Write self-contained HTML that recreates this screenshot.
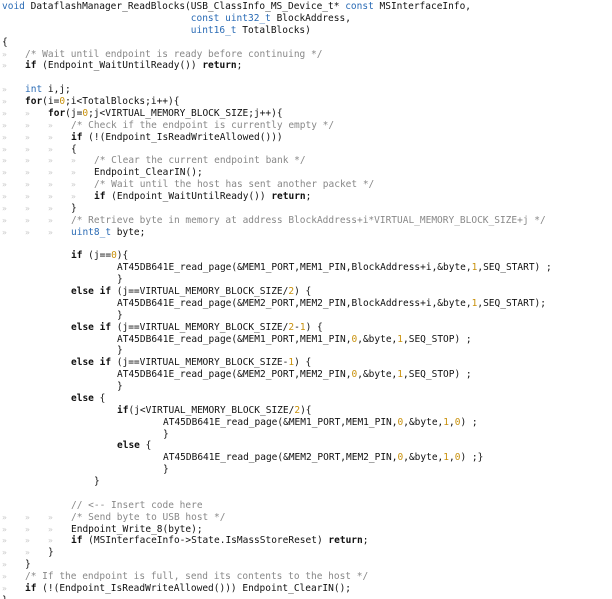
<!DOCTYPE html>
<html><head><meta charset="utf-8"><style>
html,body{margin:0;padding:0;background:#fff;width:612px;height:599px;overflow:hidden}
pre{margin:0;padding:1px 0 0 2px;font-family:"DejaVu Sans Mono","Liberation Mono",monospace;font-size:9.5px;line-height:11.88px;color:#111;white-space:pre}
i{font-style:normal;display:inline-block;width:23px;color:#c8c8c8;font-size:8px;line-height:0}
u{text-decoration:none;display:inline-block;width:23px;line-height:0}
b{font-weight:bold}
.k{color:#2a6bb5}
.n{color:#c8900a}
.c{color:#888}
</style></head><body><pre><span class="k">void</span> DataflashManager_ReadBlocks(USB_ClassInfo_MS_Device_t* <span class="k">const</span> MSInterfaceInfo,
                                 <span class="k">const</span> <span class="k">uint32_t</span> BlockAddress,
                                 <span class="k">uint16_t</span> TotalBlocks)
{
<i>»</i><span class="c">/* Wait until endpoint is ready before continuing */</span>
<i>»</i><b>if</b> (Endpoint_WaitUntilReady()) <b>return</b>;

<i>»</i><span class="k">int</span> i,j;
<i>»</i><b>for</b>(i=<span class="n">0</span>;i&lt;TotalBlocks;i++){
<i>»</i><i>»</i><b>for</b>(j=<span class="n">0</span>;j&lt;VIRTUAL_MEMORY_BLOCK_SIZE;j++){
<i>»</i><i>»</i><i>»</i><span class="c">/* Check if the endpoint is currently empty */</span>
<i>»</i><i>»</i><i>»</i><b>if</b> (!(Endpoint_IsReadWriteAllowed()))
<i>»</i><i>»</i><i>»</i>{
<i>»</i><i>»</i><i>»</i><i>»</i><span class="c">/* Clear the current endpoint bank */</span>
<i>»</i><i>»</i><i>»</i><i>»</i>Endpoint_ClearIN();
<i>»</i><i>»</i><i>»</i><i>»</i><span class="c">/* Wait until the host has sent another packet */</span>
<i>»</i><i>»</i><i>»</i><i>»</i><b>if</b> (Endpoint_WaitUntilReady()) <b>return</b>;
<i>»</i><i>»</i><i>»</i>}
<i>»</i><i>»</i><i>»</i><span class="c">/* Retrieve byte in memory at address BlockAddress+i*VIRTUAL_MEMORY_BLOCK_SIZE+j */</span>
<i>»</i><i>»</i><i>»</i><span class="k">uint8_t</span> byte;

<u></u><u></u><u></u><b>if</b> (j==<span class="n">0</span>){
<u></u><u></u><u></u><u></u><u></u>AT45DB641E_read_page(&amp;MEM1_PORT,MEM1_PIN,BlockAddress+i,&amp;byte,<span class="n">1</span>,SEQ_START) ;
<u></u><u></u><u></u><u></u><u></u>}
<u></u><u></u><u></u><b>else if</b> (j==VIRTUAL_MEMORY_BLOCK_SIZE/<span class="n">2</span>) {
<u></u><u></u><u></u><u></u><u></u>AT45DB641E_read_page(&amp;MEM2_PORT,MEM2_PIN,BlockAddress+i,&amp;byte,<span class="n">1</span>,SEQ_START);
<u></u><u></u><u></u><u></u><u></u>}
<u></u><u></u><u></u><b>else if</b> (j==VIRTUAL_MEMORY_BLOCK_SIZE/<span class="n">2</span>-<span class="n">1</span>) {
<u></u><u></u><u></u><u></u><u></u>AT45DB641E_read_page(&amp;MEM1_PORT,MEM1_PIN,<span class="n">0</span>,&amp;byte,<span class="n">1</span>,SEQ_STOP) ;
<u></u><u></u><u></u><u></u><u></u>}
<u></u><u></u><u></u><b>else if</b> (j==VIRTUAL_MEMORY_BLOCK_SIZE-<span class="n">1</span>) {
<u></u><u></u><u></u><u></u><u></u>AT45DB641E_read_page(&amp;MEM2_PORT,MEM2_PIN,<span class="n">0</span>,&amp;byte,<span class="n">1</span>,SEQ_STOP) ;
<u></u><u></u><u></u><u></u><u></u>}
<u></u><u></u><u></u><b>else</b> {
<u></u><u></u><u></u><u></u><u></u><b>if</b>(j&lt;VIRTUAL_MEMORY_BLOCK_SIZE/<span class="n">2</span>){
<u></u><u></u><u></u><u></u><u></u><u></u><u></u>AT45DB641E_read_page(&amp;MEM1_PORT,MEM1_PIN,<span class="n">0</span>,&amp;byte,<span class="n">1</span>,<span class="n">0</span>) ;
<u></u><u></u><u></u><u></u><u></u><u></u><u></u>}
<u></u><u></u><u></u><u></u><u></u><b>else</b> {
<u></u><u></u><u></u><u></u><u></u><u></u><u></u>AT45DB641E_read_page(&amp;MEM2_PORT,MEM2_PIN,<span class="n">0</span>,&amp;byte,<span class="n">1</span>,<span class="n">0</span>) ;}
<u></u><u></u><u></u><u></u><u></u><u></u><u></u>}
<u></u><u></u><u></u><u></u>}

<u></u><u></u><u></u><span class="c">// &lt;-- Insert code here</span>
<i>»</i><i>»</i><i>»</i><span class="c">/* Send byte to USB host */</span>
<i>»</i><i>»</i><i>»</i>Endpoint_Write_8(byte);
<i>»</i><i>»</i><i>»</i><b>if</b> (MSInterfaceInfo-&gt;State.IsMassStoreReset) <b>return</b>;
<i>»</i><i>»</i>}
<i>»</i>}
<i>»</i><span class="c">/* If the endpoint is full, send its contents to the host */</span>
<i>»</i><b>if</b> (!(Endpoint_IsReadWriteAllowed())) Endpoint_ClearIN();
}</pre></body></html>
